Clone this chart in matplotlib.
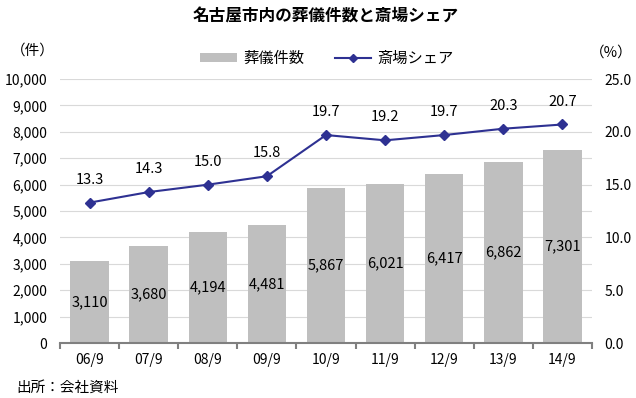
import matplotlib.pyplot as plt
import numpy as np

plt.rcParams["font.family"] = ["Noto Sans CJK JP", "DejaVu Sans"]

# =========================
# Data
# =========================

periods = ["06/9", "07/9", "08/9", "09/9", "10/9", "11/9", "12/9", "13/9", "14/9"]
funerals = [3110, 3680, 4194, 4481, 5867, 6021, 6417, 6862, 7301]
share = [13.3, 14.3, 15.0, 15.8, 19.7, 19.2, 19.7, 20.3, 20.7]

BAR_COLOR = "#BFBFBF"
LINE_COLOR = "#2E3192"
GRID_COLOR = "#D9D9D9"


def main():
    fig = plt.figure(figsize=(6.36, 3.98), dpi=100)
    ax = fig.add_axes([0.0943, 0.138, 0.8365, 0.6633])
    ax2 = ax.twinx()

    x = np.arange(len(periods))

    # Bars, value labels in the middle of each bar
    ax.bar(x, funerals, width=0.65, color=BAR_COLOR, zorder=2, label="葬儀件数")
    for xi, v in zip(x, funerals):
        ax.text(xi, v / 2, f"{v:,}", ha="center", va="center", fontsize=10.5, zorder=3)

    ax.set_ylim(0, 10000)
    ax.set_yticks(range(0, 10001, 1000))
    ax.set_yticklabels([f"{v:,}" for v in range(0, 10001, 1000)])
    ax.set_xlim(-0.5, len(periods) - 0.5)
    ax.set_xticks(x)
    ax.set_xticklabels(periods)
    ax.set_xticks(np.arange(-0.5, len(periods)), minor=True)
    ax.grid(axis="y", color=GRID_COLOR, linewidth=0.8, zorder=0)
    ax.set_axisbelow(True)

    ax.tick_params(axis="x", which="major", length=0, pad=7, labelsize=10)
    ax.tick_params(axis="x", which="minor", length=4, color="#808080", width=1.5)
    ax.tick_params(axis="y", length=0, labelsize=10, pad=9)

    for a in (ax, ax2):
        for side in ("top", "left", "right"):
            a.spines[side].set_visible(False)
    ax.spines["bottom"].set_color("#808080")
    ax.spines["bottom"].set_linewidth(1.5)
    ax2.spines["bottom"].set_visible(False)

    # Share line
    ax2.plot(x, share, color=LINE_COLOR, linewidth=1.5, marker="D",
             markersize=5.5, zorder=4, label="斎場シェア")
    for xi, v in zip(x, share):
        ax2.annotate(f"{v:.1f}", (xi, v), xytext=(0, 16.5), textcoords="offset points",
                     ha="center", va="center", fontsize=10.5)
    ax2.set_ylim(0, 25)
    ax2.set_yticks(np.arange(0, 25.1, 5))
    ax2.set_yticklabels([f"{v:.1f}" for v in np.arange(0, 25.1, 5)])
    ax2.tick_params(axis="y", length=0, labelsize=10, pad=9)

    ax.set_zorder(ax2.get_zorder() - 1)
    ax.patch.set_visible(False)

    # Texts
    fig.text(0.512, 0.962, "名古屋市内の葬儀件数と斎場シェア", ha="center", va="center",
             fontsize=12, fontweight="bold")
    fig.text(0.052, 0.874, "（件）", ha="center", va="center", fontsize=10.5)
    fig.text(0.961, 0.869, "（%）", ha="center", va="center", fontsize=10.5)
    fig.text(0.025, 0.025, "出所：会社資料", ha="left", va="center", fontsize=10.5)

    h1, l1 = ax.get_legend_handles_labels()
    h2, l2 = ax2.get_legend_handles_labels()
    fig.legend(h1 + h2, l1 + l2, loc="center", bbox_to_anchor=(0.514, 0.854),
               ncol=2, frameon=False, fontsize=11, handlelength=2.4,
               handleheight=0.5, columnspacing=2.0, handletextpad=0.4,
               markerscale=0.7)

    fig.savefig("out.png", dpi=100)
    plt.close(fig)


if __name__ == "__main__":
    main()
